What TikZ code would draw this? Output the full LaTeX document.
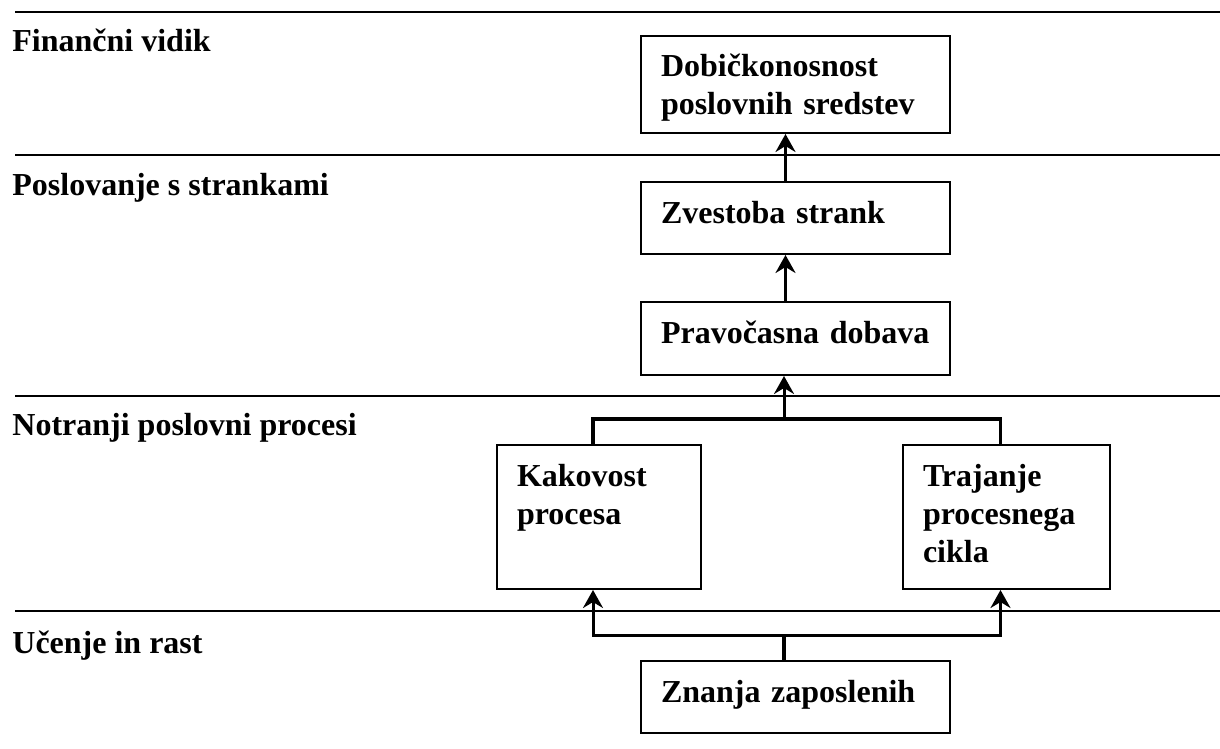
\documentclass[tikz,border=0pt]{standalone}
\usepackage{fontspec}
\setmainfont{Liberation Serif}
\usepackage{tikz}
\usetikzlibrary{arrows.meta, positioning}

\begin{document}
\begin{tikzpicture}[
  x=0.5pt, y=-0.5pt,
  box/.style={rectangle, draw=black, line width=1pt, anchor=north west,
              align=left, inner xsep=10pt, inner ysep=0pt,
              text height=20.5pt, text width=134.5pt,
              font=\fontsize{16pt}{19pt}\selectfont\bfseries},
  lane/.style={anchor=base west, inner sep=0pt,
               font=\fontsize{16pt}{19pt}\selectfont\bfseries},
  sep/.style={line width=1.2pt, color=black},
  arr/.style={-{Stealth[length=9pt, width=10pt, inset=3pt]}, line width=1.5pt, color=black},
  bar/.style={line width=1.8pt, color=black}
]
  \useasboundingbox (0,0) rectangle (1220,749);

  %% ── Perspective separators and labels ─────────────────────────────
  \foreach \y in {12,155,396,611}
    \draw[sep] (15,\y) -- (1220,\y);
  \node[lane] (fin)  at (12,52)  {Finančni vidik};
  \node[lane] (str)  at (12,195) {Poslovanje s strankami};
  \node[lane] (proc) at (12,435) {Notranji poslovni procesi};
  \node[lane] (rast) at (12,653) {Učenje in rast};

  %% ── Central column ────────────────────────────────────────────────
  \node[box, text depth=28pt] (dob) at (640,35) {Dobičkonosnost\\poslovnih sredstev};
  \node[box, text depth=15.5pt, below=23.5pt of dob]  (zvest) {Zvestoba strank};
  \node[box, text depth=16pt,   below=23pt of zvest]  (prav)  {Pravočasna dobava};

  %% ── Process boxes and base ────────────────────────────────────────
  \node[box, text width=82pt,   text depth=51.5pt] (kak)  at (496,444) {Kakovost\\procesa};
  \node[box, text width=83.5pt, text depth=51.5pt] (traj) at (902,444) {Trajanje\\procesnega\\cikla};
  \node[box, text depth=15.5pt] (znanja) at (640,660) {Znanja zaposlenih};

  \coordinate (upbar)  at (784,419);
  \coordinate (lowbar) at (784,635);

  %% ── Arrows ────────────────────────────────────────────────────────
  \draw[arr] ([xshift=-5pt]zvest.north) -- ([xshift=-5pt]dob.south);
  \draw[arr] ([xshift=-5pt]prav.north)  -- ([xshift=-5pt]zvest.south);
  \draw[arr] (upbar) -- (upbar |- prav.south);
  \draw[bar] ([xshift=-3pt]kak.north) |- (upbar) -| ([xshift=-3pt]traj.north);
  \draw[bar] (znanja.north -| lowbar) -- (lowbar);
  \draw[arr] (lowbar) -| ([xshift=-3pt]kak.south);
  \draw[arr] (lowbar) -| ([xshift=-3pt]traj.south);
\end{tikzpicture}
\end{document}
